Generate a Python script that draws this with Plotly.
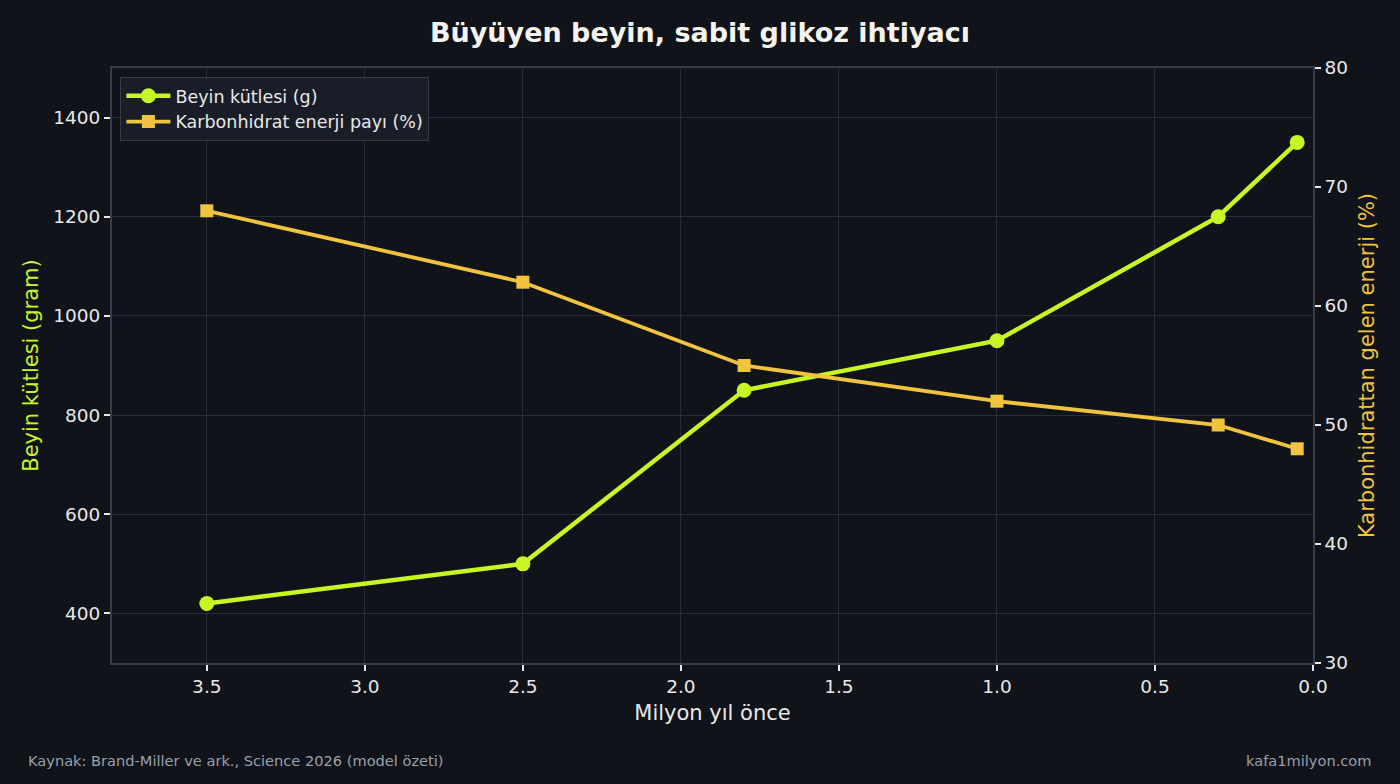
import plotly.graph_objects as go

# --- DATA ---
years_ago = [3.5, 2.5, 1.8, 1.0, 0.3, 0.05]
brain_mass = [420, 500, 850, 950, 1200, 1350]
carb_share = [68, 62, 55, 52, 50, 48]

BG = "#10131a"
GRID = "#272c36"
SPINE = "#363b47"
TEXT = "#e8e8e8"
LIME = "#c8f526"
GOLD = "#f0c43f"
FONT = "DejaVu Sans"

fig = go.Figure()

fig.add_trace(go.Scatter(
    x=years_ago, y=brain_mass, name="Beyin kütlesi (g)",
    mode="lines+markers",
    line=dict(color=LIME, width=4.5),
    marker=dict(symbol="circle", size=15, color=LIME),
))
fig.add_trace(go.Scatter(
    x=years_ago, y=carb_share, name="Karbonhidrat enerji payı (%)",
    mode="lines+markers", yaxis="y2",
    line=dict(color=GOLD, width=3.8),
    marker=dict(symbol="square", size=13, color=GOLD),
))

axis_common = dict(
    gridcolor=GRID, gridwidth=1.2,
    showline=True, linecolor=SPINE, linewidth=1.8,
    ticks="outside", ticklen=6, tickcolor=TEXT, tickwidth=1.5,
    tickfont=dict(family=FONT, size=18.5, color=TEXT),
    zeroline=False,
)

fig.update_layout(
    width=1400, height=784,
    paper_bgcolor=BG, plot_bgcolor=BG,
    font=dict(family=FONT, color=TEXT),
    margin=dict(l=112, r=87, t=68, b=121),
    title=dict(
        text="<b>Büyüyen beyin, sabit glikoz ihtiyacı</b>",
        x=0.5, xanchor="center", y=0.958, yanchor="middle",
        font=dict(family=FONT, size=27, color="#f5f3ee"),
    ),
    xaxis=dict(
        **axis_common,
        showgrid=True,
        range=[3.8, 0.0], dtick=0.5, tickformat=".1f", mirror=True,
        title=dict(text="Milyon yıl önce", font=dict(family=FONT, size=21, color=TEXT), standoff=9),
    ),
    yaxis=dict(
        **axis_common,
        showgrid=True,
        range=[300, 1500], dtick=200,
        title=dict(text="Beyin kütlesi (gram)", font=dict(family=FONT, size=21, color=LIME), standoff=9),
    ),
    yaxis2=dict(
        **axis_common,
        showgrid=False,
        overlaying="y", side="right",
        range=[30, 80], dtick=10,
        title=dict(text="Karbonhidrattan gelen enerji (%)", font=dict(family=FONT, size=21, color=GOLD), standoff=12),
    ),
    legend=dict(
        x=0.007, y=0.985, xanchor="left", yanchor="top",
        bgcolor="rgba(26,30,40,0.92)", bordercolor=SPINE, borderwidth=1,
        font=dict(family=FONT, size=17.5, color=TEXT),
        itemwidth=44, tracegroupgap=0,
    ),
    annotations=[
        dict(text="Kaynak: Brand-Miller ve ark., Science 2026 (model özeti)",
             xref="paper", yref="paper", x=-0.0715, y=-0.164, xanchor="left", yanchor="middle",
             showarrow=False, font=dict(family=FONT, size=14.6, color="#9aa0ab")),
        dict(text="kafa1milyon.com",
             xref="paper", yref="paper", x=1.0497, y=-0.164, xanchor="right", yanchor="middle",
             showarrow=False, font=dict(family=FONT, size=14.6, color="#9aa0ab")),
    ],
)

fig.write_html("out.html", config={"displayModeBar": False},
               post_script="document.body.style.margin='0';")
